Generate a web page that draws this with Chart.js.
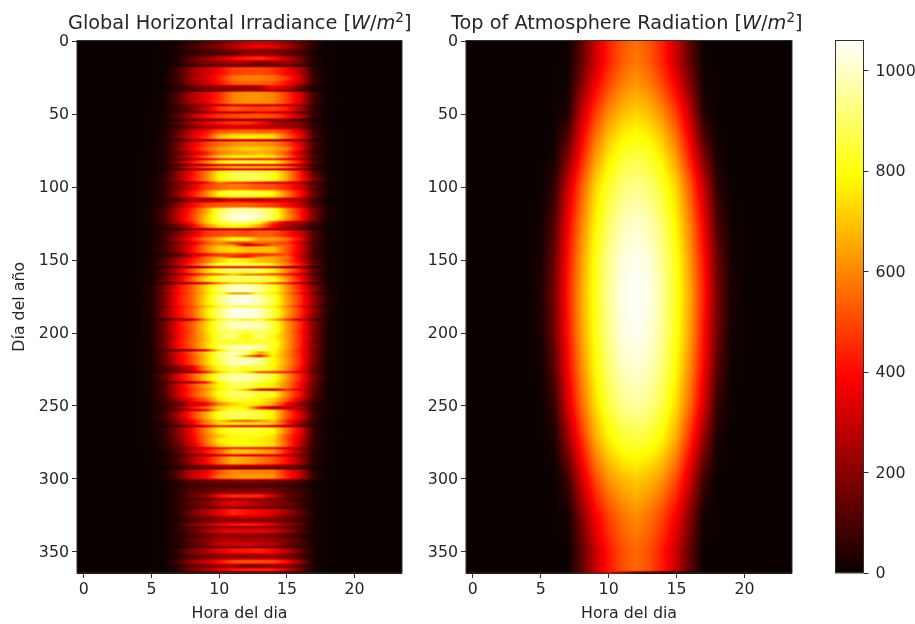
<!DOCTYPE html>
<html>
<head>
<meta charset="utf-8">
<script src="https://cdn.jsdelivr.net/npm/chart.js@4"></script>
<style>
  html, body { margin: 0; padding: 0; background: #fff; }
  body { width: 915px; height: 624px; position: relative; overflow: hidden; font-family: "DejaVu Sans", sans-serif; }
  canvas { position: absolute; top: 0; }
  .plot-title { position: absolute; top: 12px; font-size: 19.3px; line-height: 22px; color: #262626; white-space: nowrap; }
  .plot-title sup { font-size: 13.5px; line-height: 0; }
</style>
</head>
<body>
<canvas id="ghiChart" width="415" height="624" style="left:0"></canvas>
<canvas id="toaChart" width="415" height="624" style="left:415px"></canvas>
<canvas id="barChart" width="115" height="624" style="left:800px"></canvas>
<div class="plot-title" style="left:68px">Global Horizontal Irradiance [<i>W</i>/<i>m</i><sup>2</sup>]</div>
<div class="plot-title" style="left:451px">Top of Atmosphere Radiation [<i>W</i>/<i>m</i><sup>2</sup>]</div>
<script>
// Tick labels
const hourTicks = [0, 5, 10, 15, 20];
const dayTicks = [0, 50, 100, 150, 200, 250, 300, 350];
const barTicks = [0, 200, 400, 600, 800, 1000];
const barMax = 1060;

// Hours that carry a reading, the rest of the day stays at 0
const hours = [5, 6, 7, 8, 9, 10, 11, 12, 13, 14, 15, 16, 17, 18, 19];

// Global horizontal irradiance
const ghiDays = [
  0, 3, 6, 8, 11, 14, 17, 18, 24, 28, 31, 34, 35, 42, 44, 45, 49, 50, 54, 55, 58, 61, 64, 66, 68,
  69, 73, 76, 79, 81, 82, 85, 86, 88, 89, 94, 97, 98, 103, 108, 111, 115, 119, 122, 124, 126, 129,
  130, 135, 138, 140, 141, 146, 148, 149, 153, 155, 156, 160, 161, 164, 166, 167, 171, 173, 174, 179, 182,
  183, 188, 191, 192, 198, 201, 205, 209, 212, 213, 216, 217, 223, 227, 228, 234, 235, 239, 240, 245, 248,
  251, 253, 254, 260, 262, 264, 265, 270, 273, 276, 279, 280, 284, 285, 291, 293, 294, 298, 301, 304, 307,
  311, 314, 315, 320, 321, 326, 328, 331, 333, 335, 338, 341, 344, 347, 348, 352, 356, 359, 362, 364
];
const ghiValues = [
  [0,5,25,60,110,160,220,280,300,280,200,130,50,5,0],
  [0,5,40,90,150,200,260,340,380,340,260,150,40,5,0],
  [0,5,30,70,100,130,170,190,180,170,150,110,30,5,0],
  [0,5,25,60,90,110,130,210,220,200,140,90,20,0,0],
  [0,5,40,130,210,300,390,430,470,400,290,170,40,5,0],
  [0,5,40,120,180,210,240,230,170,200,240,150,30,5,0],
  [0,5,20,50,70,85,100,100,90,80,70,50,15,0,0],
  [0,10,90,220,310,380,480,500,500,470,380,260,50,5,0],
  [0,10,100,230,320,430,560,590,590,560,460,310,60,5,0],
  [0,10,90,210,300,400,520,540,540,520,400,280,60,5,0],
  [0,10,60,130,180,200,210,190,230,380,320,140,30,5,0],
  [0,5,25,60,100,120,170,250,230,200,120,60,15,0,0],
  [0,15,120,260,350,450,590,620,620,590,480,320,80,10,0],
  [0,15,130,260,350,470,600,620,620,600,490,340,90,10,0],
  [0,15,70,140,170,220,260,270,240,240,220,150,40,5,0],
  [0,20,90,170,300,470,540,510,480,500,430,260,60,5,0],
  [0,15,70,120,130,210,230,200,330,260,190,100,30,5,0],
  [5,30,130,270,400,470,500,520,520,500,410,280,70,10,0],
  [0,10,40,80,90,110,130,130,110,100,80,50,15,0,0],
  [5,30,120,260,350,420,470,480,400,280,220,190,50,5,0],
  [5,25,90,170,250,290,330,300,300,280,240,180,50,5,0],
  [5,30,140,300,400,510,540,550,530,530,470,320,80,10,0],
  [5,30,160,320,430,640,720,740,730,710,520,370,90,10,0],
  [5,40,170,340,470,700,780,800,790,770,560,390,100,15,0],
  [0,15,60,110,130,140,180,170,150,140,120,80,25,5,0],
  [5,35,170,350,470,560,600,640,620,600,500,340,90,10,0],
  [5,40,180,370,520,620,670,720,700,660,570,360,90,15,0],
  [5,30,140,280,420,580,640,650,680,640,500,280,70,10,0],
  [10,45,190,370,560,740,820,830,820,770,590,360,100,15,0],
  [5,30,110,200,270,340,380,340,340,350,280,200,60,10,0],
  [10,50,200,400,580,760,840,850,830,790,620,400,110,15,0],
  [5,25,70,130,210,260,250,240,230,270,240,170,50,5,0],
  [10,50,200,410,530,670,730,740,740,720,600,380,90,10,0],
  [5,20,60,110,160,200,230,240,230,200,170,120,40,5,0],
  [10,50,220,400,560,780,870,880,870,830,640,420,130,20,0],
  [15,70,230,420,580,790,860,880,870,830,650,440,190,30,0],
  [10,50,130,200,320,540,430,380,300,240,280,200,80,15,0],
  [10,55,190,320,480,540,580,560,520,510,440,330,120,20,0],
  [15,70,220,410,580,790,860,860,840,780,590,400,150,25,0],
  [10,60,110,230,220,260,350,300,290,300,280,240,80,10,0],
  [15,70,220,380,490,520,530,540,500,470,400,300,110,20,0],
  [20,100,280,460,640,880,980,990,950,870,620,420,170,30,0],
  [20,110,300,480,680,900,1000,1020,980,880,640,430,170,30,0],
  [20,100,300,490,700,890,1020,1040,980,860,620,420,170,30,0],
  [20,100,270,430,700,840,900,880,800,480,300,230,100,20,0],
  [15,70,160,350,580,750,820,780,640,400,270,180,60,10,0],
  [10,30,60,110,150,190,200,190,170,160,120,90,30,5,0],
  [15,80,180,320,460,500,530,500,540,520,430,310,110,15,0],
  [15,85,250,420,570,680,810,800,620,640,560,380,120,20,0],
  [15,70,180,300,480,600,460,430,560,520,470,280,70,10,0],
  [15,90,230,380,560,650,650,220,300,540,560,360,110,15,0],
  [20,90,210,390,580,710,740,690,700,690,520,340,90,15,0],
  [15,60,120,270,380,450,490,430,430,470,500,300,80,10,0],
  [15,80,170,310,530,610,430,380,620,650,580,290,90,15,0],
  [20,100,260,420,560,720,800,760,690,660,540,340,110,15,0],
  [25,130,300,490,700,860,930,920,880,790,620,420,150,20,0],
  [10,40,70,110,160,250,220,240,220,200,130,90,30,5,0],
  [25,130,320,510,700,860,920,900,890,790,600,400,140,20,0],
  [20,90,150,300,420,460,620,480,440,400,370,240,80,10,0],
  [25,130,320,520,710,850,900,880,890,800,600,390,140,20,0],
  [30,150,340,540,740,870,930,900,900,850,650,430,160,20,0],
  [20,70,130,210,250,480,620,610,600,430,370,210,60,10,0],
  [30,170,390,530,720,890,1000,1010,950,840,620,420,190,30,0],
  [35,190,410,540,720,900,1040,1040,960,830,630,460,220,40,0],
  [30,160,380,530,690,820,500,500,780,760,580,370,120,15,0],
  [35,190,410,540,730,920,1030,1040,980,860,640,460,220,45,0],
  [35,190,410,540,740,920,1010,1020,980,860,650,460,220,45,0],
  [30,170,370,500,660,780,820,800,800,760,590,380,160,25,0],
  [35,190,400,530,740,920,1030,1040,1000,860,650,460,210,40,0],
  [35,190,390,520,730,930,1050,1050,1000,860,640,440,200,35,0],
  [20,60,120,180,560,770,820,700,800,620,420,220,90,15,0],
  [30,170,390,530,710,900,1000,1000,980,860,640,450,190,30,0],
  [30,160,380,520,720,880,900,880,910,860,630,430,170,25,0],
  [30,160,380,530,690,860,940,780,920,800,640,440,190,25,0],
  [30,160,390,540,700,850,820,830,840,840,640,440,170,25,0],
  [30,160,390,530,720,900,1010,1020,990,830,640,440,190,30,0],
  [20,80,90,150,240,680,860,880,860,820,610,400,160,25,0],
  [30,150,360,520,710,900,1000,960,640,800,610,430,180,25,0],
  [25,130,340,510,700,900,960,500,280,760,600,430,170,20,0],
  [25,140,340,500,700,880,980,1000,940,800,630,440,170,20,0],
  [20,90,200,320,620,810,900,820,860,780,610,400,150,20,0],
  [15,60,100,170,320,660,800,710,400,360,360,300,90,10,0],
  [25,130,350,510,700,880,970,980,920,830,630,430,170,25,0],
  [20,80,110,180,300,790,900,880,840,760,590,380,130,15,0],
  [20,120,330,490,640,790,890,880,800,760,590,390,140,15,0],
  [20,110,300,460,580,770,820,620,200,120,420,320,100,10,0],
  [20,110,320,480,630,820,900,890,850,810,590,400,120,15,0],
  [15,90,240,400,530,750,840,840,780,700,530,310,90,10,0],
  [15,70,130,300,360,590,720,780,760,640,400,210,60,10,0],
  [15,80,220,410,580,750,810,760,380,180,250,260,70,10,0],
  [15,50,110,220,280,680,820,840,800,760,490,230,60,10,0],
  [15,90,260,470,650,840,900,880,860,760,520,330,80,10,0],
  [10,70,210,350,570,730,570,530,600,690,430,260,60,5,0],
  [10,70,190,370,590,750,820,800,780,700,460,200,50,5,0],
  [5,25,70,130,250,350,300,240,260,200,160,110,30,5,0],
  [10,60,200,390,590,770,840,850,830,790,560,350,70,10,0],
  [10,60,200,370,570,710,800,810,800,750,500,320,70,10,0],
  [10,50,180,350,560,760,800,780,760,720,500,300,60,5,0],
  [5,50,160,320,530,720,800,810,780,740,520,280,60,5,0],
  [5,30,100,210,280,350,380,350,340,320,260,180,40,5,0],
  [5,30,120,280,400,540,700,700,660,620,420,230,50,5,0],
  [0,15,70,130,150,240,260,220,230,260,200,130,30,0,0],
  [5,25,110,250,380,540,680,640,580,520,400,240,50,5,0],
  [0,15,70,140,180,250,260,240,240,210,170,120,30,0,0],
  [0,5,40,70,90,110,120,120,110,100,80,50,15,0,0],
  [0,25,130,290,350,520,600,600,600,590,430,280,50,5,0],
  [0,25,130,310,370,570,620,640,630,610,440,290,60,5,0],
  [0,10,60,120,130,150,170,180,170,160,130,90,20,0,0],
  [0,10,40,80,100,110,100,110,110,100,70,50,10,0,0],
  [0,10,50,120,140,170,190,190,190,170,120,80,20,0,0],
  [0,5,50,150,210,390,450,440,450,300,150,100,20,0,0],
  [0,5,40,90,110,140,160,170,160,120,90,60,15,0,0],
  [0,5,50,130,180,280,340,300,250,200,160,90,20,0,0],
  [0,5,40,80,110,130,150,150,140,120,80,60,15,0,0],
  [0,5,50,170,260,350,450,410,380,330,240,130,25,0,0],
  [0,5,50,120,170,230,280,280,270,230,170,90,20,0,0],
  [0,5,40,110,160,190,200,220,210,180,140,90,20,0,0],
  [0,5,70,190,280,380,430,450,420,360,230,130,20,0,0],
  [0,5,50,110,160,200,220,220,210,180,130,80,15,0,0],
  [0,5,60,140,230,330,360,340,350,320,220,120,20,0,0],
  [0,5,40,100,160,190,210,200,200,170,120,70,15,0,0],
  [0,5,50,130,190,260,270,240,250,230,170,90,20,0,0],
  [0,5,40,120,190,300,310,330,290,260,170,100,20,0,0],
  [0,5,25,70,90,110,130,140,140,120,90,60,15,0,0],
  [0,5,80,190,260,350,410,420,440,380,280,150,20,0,0],
  [0,5,50,130,170,200,220,210,220,230,170,100,15,0,0],
  [0,10,90,240,310,400,510,530,520,500,400,220,30,0,0],
  [0,5,50,140,170,220,240,180,190,220,190,120,20,0,0],
  [0,10,70,200,270,360,430,460,470,450,340,180,25,0,0],
  [0,5,25,60,90,110,120,130,130,120,80,50,10,0,0]
];

// Top of atmosphere radiation
const toaDays = [0, 15, 30, 50, 65, 80, 100, 125, 150, 172, 200, 225, 250, 275, 300, 325, 350, 363, 364];
const toaValues = [
  [0,0,0,130,300,430,520,560,520,430,300,130,0,0,0],
  [0,0,5,140,300,440,530,585,530,440,300,140,5,0,0],
  [0,0,10,190,370,500,590,630,590,500,370,190,10,0,0],
  [0,0,40,290,480,610,690,725,690,610,480,290,40,0,0],
  [0,5,110,360,560,690,770,800,770,690,560,360,110,5,0],
  [0,20,190,430,630,760,840,870,840,760,630,430,190,20,0],
  [0,60,300,530,720,840,910,940,910,840,720,530,300,60,0],
  [10,110,370,590,770,900,980,1010,980,900,770,590,370,110,10],
  [20,150,410,630,810,940,1020,1045,1020,940,810,630,410,150,20],
  [30,170,430,650,820,950,1035,1058,1035,950,820,650,430,170,30],
  [20,160,410,640,810,940,1020,1050,1020,940,810,640,410,160,20],
  [5,120,380,600,780,910,990,1015,990,910,780,600,380,120,5],
  [0,70,320,550,730,860,930,960,930,860,730,550,320,70,0],
  [0,20,210,440,640,760,830,850,830,760,640,440,210,20,0],
  [0,0,80,310,500,620,680,710,680,620,500,310,80,0,0],
  [0,0,15,190,370,490,570,610,570,490,370,190,15,0,0],
  [0,0,0,130,290,420,510,550,510,420,290,130,0,0,0],
  [0,0,0,130,290,420,510,550,510,420,290,130,0,0,0],
  [0,0,0,130,290,420,300,30,0,0,0,0,0,0,0]
];

const TEXT_COLOR = '#262626';
const FRAME_COLOR = '#303030';
const TICK_FONT = { family: 'DejaVu Sans', size: 15.8 };
const LABEL_FONT = { family: 'DejaVu Sans', size: 15.8 };

// matplotlib "hot" colormap
function hot(value) {
  const t = Math.min(1, Math.max(0, value / barMax));
  const r = t < 0.365 ? 0.0416 + (1 - 0.0416) * t / 0.365 : 1;
  const g = t < 0.365 ? 0 : t < 0.746 ? (t - 0.365) / 0.381 : 1;
  const b = t < 0.746 ? 0 : (t - 0.746) / 0.254;
  return [r * 255, g * 255, b * 255];
}

function readingAt(days, values, day, hour, fade) {
  let j = 1;
  while (j < days.length - 1 && days[j] < day) j++;
  // a row holds until shortly before the next one, so streaks stay thin
  const gap = days[j] - days[j - 1];
  const span = Math.min(gap, fade);
  const d = Math.min(1, Math.max(0, (day - (days[j] - span)) / span));
  const h0 = Math.floor(hour);
  const f = hour - h0;
  const cell = (row, h) => {
    const i = hours.indexOf(h);
    return i < 0 ? 0 : values[row][i];
  };
  const a = cell(j - 1, h0) * (1 - f) + cell(j - 1, h0 + 1) * f;
  const b = cell(j, h0) * (1 - f) + cell(j, h0 + 1) * f;
  return a * (1 - d) + b * d;
}

// Paints the table like imshow with interpolation, going through the chart scales
const heatmapPlugin = {
  id: 'heatmap',
  beforeDatasetsDraw(chart, args, opts) {
    const { ctx, chartArea, scales } = chart;
    const w = Math.round(chartArea.right - chartArea.left);
    const h = Math.round(chartArea.bottom - chartArea.top);
    const off = document.createElement('canvas');
    off.width = w;
    off.height = h;
    const octx = off.getContext('2d');
    const img = octx.createImageData(w, h);
    for (let py = 0; py < h; py++) {
      const day = scales.y.getValueForPixel(chartArea.top + py + 0.5);
      for (let px = 0; px < w; px++) {
        const hour = scales.x.getValueForPixel(chartArea.left + px + 0.5);
        const c = hot(readingAt(opts.days, opts.values, day, hour, opts.fade));
        const k = (py * w + px) * 4;
        img.data[k] = c[0];
        img.data[k + 1] = c[1];
        img.data[k + 2] = c[2];
        img.data[k + 3] = 255;
      }
    }
    octx.putImageData(img, 0, 0);
    ctx.drawImage(off, chartArea.left, chartArea.top);
  }
};

const framePlugin = {
  id: 'frame',
  afterDraw(chart) {
    const { ctx, chartArea } = chart;
    ctx.save();
    ctx.strokeStyle = FRAME_COLOR;
    ctx.lineWidth = 1;
    ctx.strokeRect(chartArea.left, chartArea.top, chartArea.right - chartArea.left, chartArea.bottom - chartArea.top);
    ctx.restore();
  }
};

function toPoints(days, values) {
  const points = [];
  days.forEach((day, r) => {
    hours.forEach((hour, c) => points.push({ x: hour, y: day, v: values[r][c] }));
  });
  return points;
}

function renderHeatmap(id, days, values, fade, yTitle, leftSpace, rightSpace) {
  return new Chart(document.getElementById(id), {
    type: 'scatter',
    data: { datasets: [{ data: toPoints(days, values), pointRadius: 0, pointHoverRadius: 0 }] },
    plugins: [heatmapPlugin, framePlugin],
    options: {
      responsive: false,
      animation: false,
      events: [],
      layout: { padding: { top: 40.5, right: rightSpace } },
      plugins: {
        legend: { display: false },
        tooltip: { enabled: false },
        heatmap: { days, values, fade }
      },
      scales: {
        x: {
          type: 'linear',
          min: -0.5,
          max: 23.5,
          afterBuildTicks: scale => { scale.ticks = hourTicks.map(value => ({ value })); },
          afterFit: scale => { scale.height = 51; },
          grid: { drawOnChartArea: false, tickLength: 5, tickColor: FRAME_COLOR, tickWidth: 1 },
          border: { display: false },
          ticks: { color: TEXT_COLOR, font: TICK_FONT, padding: 2, maxRotation: 0, callback: v => String(v) },
          title: { display: true, text: 'Hora del dia', color: TEXT_COLOR, font: LABEL_FONT, padding: { top: 0, bottom: 1 } }
        },
        y: {
          type: 'linear',
          reverse: true,
          min: -0.5,
          max: 364.5,
          afterBuildTicks: scale => { scale.ticks = dayTicks.map(value => ({ value })); },
          afterFit: scale => { scale.width = leftSpace; },
          grid: { drawOnChartArea: false, tickLength: 5, tickColor: FRAME_COLOR, tickWidth: 1 },
          border: { display: false },
          ticks: { color: TEXT_COLOR, font: TICK_FONT, padding: 3, labelOffset: 1, callback: v => String(v) },
          title: { display: !!yTitle, text: yTitle, color: TEXT_COLOR, font: LABEL_FONT, padding: { top: 10, bottom: 0 } }
        }
      }
    }
  });
}

function renderColorbar() {
  return new Chart(document.getElementById('barChart'), {
    type: 'bar',
    data: {
      labels: [''],
      datasets: [{
        data: [[0, barMax]],
        barPercentage: 1,
        categoryPercentage: 1,
        backgroundColor(context) {
          const { chart } = context;
          if (!chart.chartArea) return '#000';
          const { top, bottom } = chart.chartArea;
          const gradient = chart.ctx.createLinearGradient(0, bottom, 0, top);
          [0, 0.365, 0.746, 1].forEach(stop => {
            const c = hot(stop * barMax);
            gradient.addColorStop(stop, `rgb(${c[0]}, ${c[1]}, ${c[2]})`);
          });
          return gradient;
        }
      }]
    },
    plugins: [framePlugin],
    options: {
      responsive: false,
      animation: false,
      events: [],
      layout: { padding: { top: 40.5, left: 35.5, bottom: 51 } },
      plugins: { legend: { display: false }, tooltip: { enabled: false } },
      scales: {
        x: { display: false },
        y: {
          position: 'right',
          min: 0,
          max: barMax,
          afterBuildTicks: scale => { scale.ticks = barTicks.map(value => ({ value })); },
          afterFit: scale => { scale.width = 51.5; },
          grid: { drawOnChartArea: false, tickLength: 5, tickColor: FRAME_COLOR, tickWidth: 1 },
          border: { display: false },
          ticks: { color: TEXT_COLOR, font: TICK_FONT, padding: 7, labelOffset: 1, callback: v => String(v) }
        }
      }
    }
  });
}

renderHeatmap('ghiChart', ghiDays, ghiValues, 1.5, 'Día del año', 77, 13);
renderHeatmap('toaChart', toaDays, toaValues, 100, '', 51, 38);
renderColorbar();
</script>
</body>
</html>
